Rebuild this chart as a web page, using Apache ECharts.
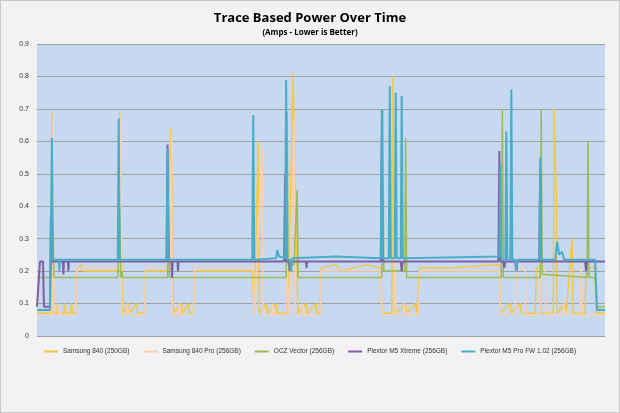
<!DOCTYPE html>
<html>
<head>
<meta charset="utf-8">
<script src="https://cdn.jsdelivr.net/npm/echarts@6/dist/echarts.min.js"></script>
<style>
html,body{margin:0;padding:0;background:#f2f2f2;}
#chart{width:620px;height:413px;box-sizing:border-box;border:1px solid #c8c8c8;}
</style>
</head>
<body>
<div id="chart"></div>
<script>
// series names
var seriesNames = ['Samsung 840 (250GB)', 'Samsung 840 Pro (256GB)', 'OCZ Vector (256GB)', 'Plextor M5 Xtreme (256GB)', 'Plextor M5 Pro FW 1.02 (256GB)'];
var yTicks = [0, 0.1, 0.2, 0.3, 0.4, 0.5, 0.6, 0.7, 0.8, 0.9];

// [time, amps] breakpoints
var samsung840 = [[0,0.07],[14,0.07],[15,0.69],[16,0.07],[20,0.07],[20.5,0.1],[22,0.1],[22.5,0.07],[27,0.07],[27.5,0.1],[29,0.1],[29.5,0.07],[34,0.07],[34.5,0.1],[36,0.1],[36.5,0.07],[39,0.07],[40,0.2],[44,0.22],[46,0.2],[82,0.2],[83,0.69],[85,0.22],[86,0.07],[92,0.1],[93,0.07],[100,0.1],[101,0.07],[108,0.07],[109,0.2],[131,0.2],[134,0.64],[136,0.45],[137,0.07],[145,0.1],[146,0.07],[152,0.1],[153,0.07],[157,0.07],[158,0.2],[216,0.2],[218,0.07],[222,0.6],[223,0.07],[230,0.1],[231,0.07],[240,0.1],[241,0.07],[252,0.07],[257,0.81],[259,0.45],[261,0.45],[262,0.07],[270,0.1],[271,0.07],[280,0.1],[281,0.07],[284,0.07],[285,0.21],[300,0.22],[305,0.2],[330,0.22],[345,0.21],[346,0.07],[356,0.07],[357,0.8],[358,0.5],[359,0.07],[370,0.1],[371,0.07],[380,0.1],[381,0.07],[383,0.07],[384,0.21],[420,0.21],[464,0.22],[465,0.07],[475,0.1],[476,0.07],[485,0.1],[486,0.07],[500,0.07],[501,0.21],[505,0.21],[506,0.07],[518,0.07],[519,0.7],[521,0.45],[522,0.07],[530,0.1],[531,0.07],[537,0.3],[538,0.07],[550,0.07],[551,0.21],[560,0.21],[561,0.07],[570,0.07]];
var samsung840Pro = [[0,0.065],[15,0.065],[16,0.68],[17,0.065],[21,0.065],[21.5,0.1],[23,0.1],[23.5,0.065],[39,0.065],[40,0.21],[83,0.21],[84,0.68],[85,0.065],[90,0.065],[90.5,0.1],[92,0.1],[92.5,0.065],[108,0.065],[109,0.21],[134,0.21],[135,0.62],[136,0.065],[142,0.065],[142.5,0.1],[144,0.1],[144.5,0.065],[157,0.065],[158,0.21],[217,0.21],[218,0.065],[226,0.58],[227,0.065],[236,0.065],[236.5,0.1],[238,0.1],[238.5,0.065],[250,0.065],[251,0.2],[253,0.065],[258,0.67],[259,0.065],[266,0.065],[266.5,0.1],[268,0.1],[268.5,0.065],[284,0.065],[285,0.2],[345,0.2],[346,0.065],[358,0.065],[359,0.45],[360,0.065],[368,0.065],[368.5,0.1],[370,0.1],[370.5,0.065],[383,0.065],[384,0.2],[464,0.2],[465,0.065],[480,0.065],[481,0.21],[490,0.21],[491,0.065],[505,0.065],[506,0.21],[510,0.21],[511,0.065],[528,0.065],[528.5,0.1],[530,0.1],[530.5,0.065],[545,0.065],[546,0.25],[547,0.065],[570,0.065]];
var oczVector = [[0,0.18],[14,0.18],[16,0.35],[17,0.18],[81,0.18],[83,0.4],[84,0.18],[85,0.2],[86,0.18],[131,0.18],[132,0.4],[133,0.18],[250,0.18],[251,0.69],[252,0.22],[258,0.22],[261,0.45],[262,0.18],[346,0.18],[347,0.7],[348,0.2],[369,0.2],[370,0.61],[371,0.18],[466,0.18],[467,0.7],[468,0.18],[505,0.18],[506,0.7],[507,0.19],[552,0.18],[553,0.6],[554,0.18],[560,0.18],[562,0.09],[570,0.09]];
var plextorXtreme = [[0,0.09],[2,0.09],[3,0.23],[6,0.23],[7,0.09],[13,0.09],[14,0.37],[15,0.23],[26,0.23],[26.5,0.19],[27,0.23],[31,0.23],[31.5,0.2],[32,0.23],[130,0.23],[131,0.59],[132,0.23],[135,0.23],[135.5,0.18],[136,0.23],[141,0.23],[141.5,0.2],[142,0.23],[248,0.23],[249,0.5],[250,0.23],[253,0.23],[253.5,0.2],[254,0.23],[270,0.23],[270.5,0.21],[271,0.23],[345,0.23],[346,0.6],[347,0.23],[365,0.23],[366,0.2],[367,0.23],[463,0.23],[464,0.57],[465,0.23],[468,0.23],[469,0.21],[470,0.23],[480,0.23],[481,0.2],[482,0.23],[504,0.23],[505,0.5],[506,0.23],[550,0.23],[551,0.2],[552,0.23],[570,0.23]];
var plextorPro = [[0,0.08],[13,0.08],[15,0.61],[16,0.235],[22,0.235],[22.5,0.2],[23,0.235],[81,0.235],[82,0.67],[83,0.235],[130,0.235],[131,0.58],[132,0.235],[216,0.235],[217,0.68],[218,0.235],[240,0.24],[241,0.265],[243,0.245],[249,0.24],[250,0.79],[251,0.235],[254,0.235],[255,0.2],[256,0.24],[300,0.245],[345,0.24],[346,0.7],[347,0.24],[353,0.24],[354,0.77],[355,0.24],[359,0.24],[360,0.75],[361,0.24],[365,0.24],[366,0.74],[367,0.24],[464,0.245],[465,0.53],[466,0.235],[470,0.235],[471,0.63],[472,0.235],[475,0.235],[476,0.76],[477,0.235],[480,0.235],[481,0.2],[482,0.235],[504,0.235],[505,0.55],[506,0.235],[520,0.235],[522,0.29],[524,0.25],[527,0.26],[529,0.235],[560,0.235],[562,0.08],[570,0.08]];

var colors = ['#f5c842', '#f9cfb0', '#9bbb59', '#7f5fa6', '#4bacc6'];
var allData = [samsung840, samsung840Pro, oczVector, plextorXtreme, plextorPro];

var myChart = echarts.init(document.getElementById('chart'));
var series = [];
for (var i = 0; i < allData.length; i++) {
    series.push({
        name: seriesNames[i],
        type: 'line',
        data: allData[i],
        showSymbol: false,
        lineStyle: {width: i == 3 || i == 4 ? 2 : 1.5, color: colors[i]},
        itemStyle: {color: colors[i]}
    });
}
var options = {
    backgroundColor: '#f2f2f2',
    title: {
        text: 'Trace Based Power Over Time',
        subtext: '(Amps - Lower is Better)',
        left: 'center',
        top: 6,
        itemGap: 4,
        textStyle: {fontSize: 13, fontWeight: 'bold', color: '#000', fontFamily: 'Open Sans'},
        subtextStyle: {fontSize: 8, fontWeight: 'bold', color: '#000', fontFamily: 'Open Sans'}
    },
    legend: {
        top: 347,
        left: 'center',
        width: 610,
        padding: 0,
        itemWidth: 14,
        itemHeight: 2,
        itemGap: 14,
        icon: 'rect',
        textStyle: {fontSize: 6.5, color: '#333', fontFamily: 'Liberation Sans'},
        data: seriesNames
    },
    grid: {left: 36, right: 14, top: 43, bottom: 76, show: true, backgroundColor: '#c6d9f0', borderWidth: 0},
    xAxis: {
        type: 'value', min: 0, max: 570,
        axisLabel: {show: false}, axisTick: {show: false}, splitLine: {show: false},
        axisLine: {lineStyle: {color: '#a0a0a0'}}
    },
    yAxis: {
        type: 'value', min: 0, max: 0.9, interval: 0.1,
        axisLabel: {fontSize: 7, color: '#333', formatter: function (v) { return String(Math.round(v * 10) / 10); }},
        axisLine: {show: false}, axisTick: {show: false},
        splitLine: {lineStyle: {color: '#a0a0a0', width: 1}}
    },
    series: series
};
myChart.setOption(options, true);
</script>
</body>
</html>
